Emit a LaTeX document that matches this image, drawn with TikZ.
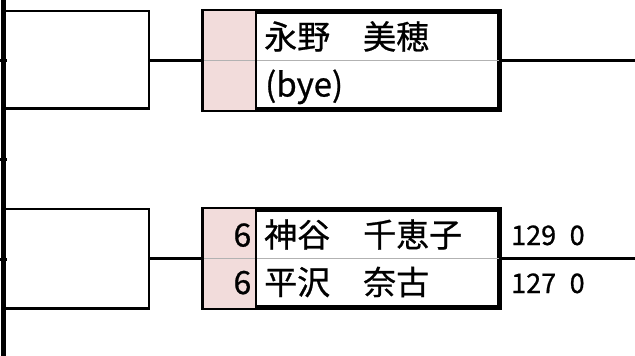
\documentclass[tikz,border=0pt]{standalone}
\usepackage{fontspec}
\setmainfont{Noto Sans CJK JP}[FakeBold=0.7]
\usetikzlibrary{calc}
\definecolor{seedpink}{RGB}{242,220,219}

\begin{document}
\begin{tikzpicture}[x=1pt,y=-1pt,
  bracket/.style={line width=2.6pt},
  matchbox/.style={draw,line width=5pt,inner sep=0pt,minimum width=295.5pt,minimum height=98.5pt},
  player/.style={anchor=base west,inner sep=0pt,font=\fontsize{33}{33}\selectfont},
  games/.style={anchor=base east,inner sep=0pt,font=\fontsize{32}{32}\selectfont},
  points/.style={anchor=base west,inner sep=0pt,font=\fontsize{27}{27}\selectfont}]
\useasboundingbox (0,0) rectangle (635,356);

% Draw line
\draw[line width=5pt] (3.5,0) -- (3.5,356);
\foreach \y in {60.5,159.5,259}
  \draw[line width=3pt] (0,\y) -- (7,\y);

% Match 1
\node[matchbox] (m1) at (351.5,60.25) {};
\fill[seedpink] ($(m1.north west)+(2.5,2.5)$) rectangle ($(m1.south west)+(54,-2.5)$);
\draw[gray!60,line width=1pt] ($(m1.west)+(2.5,0)$) -- ($(m1.east)+(-2.5,0)$);
\draw[line width=2.5pt] ($(m1.north west)+(54.5,2.5)$) -- ($(m1.south west)+(54.5,-2.5)$);
\node[player] (n11) at (264,49) {永野　美穂};
\node[player] (n12) at (265,96.5) {(bye)};
\coordinate (b1) at (149,60.25);
\coordinate (o1) at (635,60.75);
\draw[bracket] (6,11) -| (149,108.5) -- (6,108.5);
\draw[bracket] (b1) -- (m1.west);
\draw[bracket] (m1.east) -- (m1.east -| o1);

% Match 2
\node[matchbox] (m2) at (351.5,258.5) {};
\fill[seedpink] ($(m2.north west)+(2.5,2.5)$) rectangle ($(m2.south west)+(54,-2.5)$);
\draw[gray!60,line width=1pt] ($(m2.west)+(2.5,0)$) -- ($(m2.east)+(-2.5,0)$);
\draw[line width=2.5pt] ($(m2.north west)+(54.5,2.5)$) -- ($(m2.south west)+(54.5,-2.5)$);
\node[games] (g21) at (251.5,246.5) {6};
\node[games] (g22) at (251.5,294) {6};
\node[player] (n21) at (264,247) {神谷　千恵子};
\node[player] (n22) at (264,294.5) {平沢　奈古};
\node[points] (s21) at (511,245) {129\enspace 0};
\node[points] (s22) at (511,293) {127\enspace 0};
\coordinate (b2) at (149,258.5);
\coordinate (o2) at (635,258.5);
\draw[bracket] (6,209) -| (149,308.5) -- (6,308.5);
\draw[bracket] (b2) -- (m2.west);
\draw[bracket] (m2.east) -- (o2);
\end{tikzpicture}
\end{document}
